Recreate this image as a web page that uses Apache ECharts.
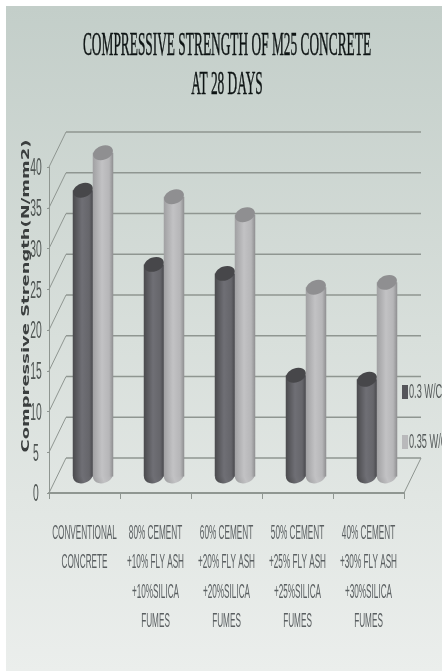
<!DOCTYPE html>
<html><head><meta charset="utf-8">
<style>html,body{margin:0;padding:0;background:#fff}#c{width:442px;height:671px}</style>
<script src="https://cdn.jsdelivr.net/npm/echarts@6/dist/echarts.min.js"></script></head>
<body><div id="c"></div>
<script>
const categories = [
  ['CONVENTIONAL','CONCRETE'],
  ['80% CEMENT','+10% FLY ASH','+10%SILICA','FUMES'],
  ['60% CEMENT','+20% FLY ASH','+20%SILICA','FUMES'],
  ['50% CEMENT','+25% FLY ASH','+25%SILICA','FUMES'],
  ['40% CEMENT','+30% FLY ASH','+30%SILICA','FUMES']
];
const seriesNames = ['0.3 W/C','0.35 W/C'];
const values03 = [35.0, 25.9, 24.8, 12.3, 11.8];
const values035 = [39.6, 34.2, 32.0, 23.1, 23.7];
const yTicks = [0,5,10,15,20,25,30,35,40];
const titleLines = ['COMPRESSIVE STRENGTH OF M25 CONCRETE','AT 28 DAYS'];
const yName = 'Compressive Strength(N/mm2)';

const DX = 17, DY = -35;
const L = 49, R = 38, T = 167, B = 178;
const LINE = '#8f9691';
function cyl(cols, capCol, side) {
  return function (params, api) {
    const v = api.value(1), idx = api.value(0);
    const top = api.coord([idx, v]), base = api.coord([idx, 0]);
    const w = 20.5;
    const cx = base[0] + DX / 2 + side * 10;
    const by = base[1] + DY / 2, ty = top[1] + DY / 2;
    const grad = { type: 'linear', x: 0, y: 0, x2: 1, y2: 0, colorStops: cols };
    return { type: 'group', children: [
      { type: 'ellipse', shape: { cx: cx, cy: by, rx: w / 2, ry: 7.5 }, rotation: 0.35, originX: cx, originY: by, style: { fill: grad } },
      { type: 'rect', shape: { x: cx - w / 2, y: ty, width: w, height: by - ty + 1 }, style: { fill: grad } },
      { type: 'ellipse', shape: { cx: cx, cy: ty, rx: w / 2, ry: 7 }, rotation: 0.35, originX: cx, originY: ty, style: { fill: capCol } }
    ]};
  };
}
const darkStops = [{offset:0,color:'#4a4a4d'},{offset:.45,color:'#6f6f75'},{offset:.8,color:'#66666b'},{offset:1,color:'#46464a'}];
const lightStops = [{offset:0,color:'#a0a0a2'},{offset:.45,color:'#c2c2c4'},{offset:.8,color:'#b6b6b8'},{offset:1,color:'#8e8e90'}];

function scaledText(text, x, y, font, fill, sx, sy, rot, align) {
  return { type: 'text', x: x, y: y, scaleX: sx, scaleY: sy, rotation: rot || 0, silent: true,
    style: { text: text, font: font, fill: fill, textAlign: align || 'center', textVerticalAlign: 'middle' } };
}
const texts = [{ type: 'rect', z: -10, silent: true, shape: { x: 6, y: 6, width: 436, height: 665 },
  style: { fill: { type: 'linear', x: 0, y: 0, x2: 0, y2: 1, colorStops: [{offset:0,color:'#c3cec9'},{offset:.5,color:'#d8dfdb'},{offset:1,color:'#ebeeec'}] } } }];
titleLines.forEach((t, i) => {
  const el = scaledText(t, 227, 46 + i * 39, '33px "Liberation Serif"', '#0e1414', 0.405, 1);
  el.style.stroke = '#0e1414'; el.style.lineWidth = 0.5;
  texts.push(el);
});
texts.push(scaledText(yName, 26, 296, 'bold 11px "DejaVu Sans"', '#3a3e3e', 1.63, 1, Math.PI / 2));
seriesNames.forEach((n, i) => {
  const y = 392 + i * 50;
  texts.push({ type: 'rect', shape: { x: 402, y: y - 7, width: 6, height: 14 }, silent: true, style: { fill: i ? '#b9b9bb' : '#55555a' } });
  texts.push(scaledText(n, 409, y, '20px "Liberation Sans"', '#555a5a', 0.46, 1, 0, 'left'));
});

const option = {
  animation: false,
  backgroundColor: '#ffffff',
  grid: { left: L, right: R, top: T, bottom: B },
  xAxis: { type: 'category', data: categories.map(c => c.join('\n')), boundaryGap: true,
    axisLine: { lineStyle: { color: LINE, width: 2 } },
    axisTick: { show: true, interval: 0, alignWithLabel: false, length: 6, lineStyle: { color: LINE, width: 1 } },
    axisLabel: { show: false }, splitLine: { show: false } },
  yAxis: { type: 'value', min: 0, max: 40, interval: 5,
    axisLine: { show: true, lineStyle: { color: LINE, width: 1 } },
    axisTick: { show: true, length: 2, lineStyle: { color: LINE } },
    axisLabel: { show: false }, splitLine: { show: false } },
  graphic: texts,
  series: [
    { type: 'custom', name: 'wall', silent: true, z: 1, data: yTicks.map(v => [0, v]),
      renderItem: function (p, api) {
        const v = api.value(1);
        const a = api.coord([0, v]);
        const x0 = L, x1 = 442 - R;
        const y = a[1];
        const ch = [
          { type: 'line', shape: { x1: x0, y1: y, x2: x0 + DX, y2: y + DY }, style: { stroke: LINE, lineWidth: 1 } },
          { type: 'line', shape: { x1: x0 + DX, y1: y + DY, x2: x1 + DX, y2: y + DY }, style: { stroke: LINE, lineWidth: 1.6 } },
          { type: 'text', x: 36, y: y + 2, scaleX: 0.45, style: { text: String(v), font: '23px "Liberation Sans"', fill: '#4f5553', textAlign: 'center', textVerticalAlign: 'middle' } }
        ];
        if (v === 0) ch.push({ type: 'line', shape: { x1: x1, y1: y, x2: x1 + DX, y2: y + DY }, style: { stroke: LINE, lineWidth: 1 } });
        return { type: 'group', children: ch };
      } },
    { type: 'custom', name: seriesNames[0], z: 3, data: values03.map((v, i) => [i, v]), renderItem: cyl(darkStops, '#47474a', -1) },
    { type: 'custom', name: seriesNames[1], z: 4, data: values035.map((v, i) => [i, v]), renderItem: cyl(lightStops, '#8f8f91', 1) },
    { type: 'custom', name: 'categoryLabels', silent: true, z: 5, data: categories.map((c, i) => [i, 0]),
      renderItem: function (p, api) {
        const i = api.value(0), a = api.coord([i, 0]);
        return { type: 'group', children: categories[i].map((t, k) => ({
          type: 'text', x: a[0], y: a[1] + 40 + k * 29.5, scaleX: 0.41,
          style: { text: t, font: '20px "Liberation Sans"', fill: '#5a5f61', textAlign: 'center', textVerticalAlign: 'middle' } })) };
      } }
  ]
};
echarts.init(document.getElementById('c')).setOption(option);
</script></body></html>
